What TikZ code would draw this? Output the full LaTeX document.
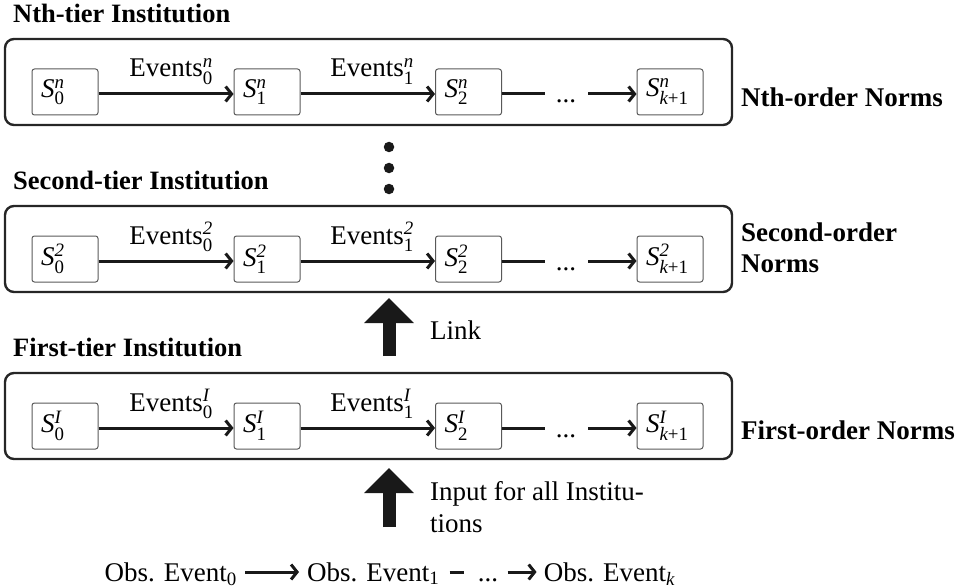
\documentclass[tikz,border=0pt]{standalone}
\usepackage{amsmath}
\usepackage{fontspec}
\setmainfont{Liberation Serif}
\usetikzlibrary{arrows.meta}
\newcommand\St[2]{\textit{S}$^{\textit{#1}}_{\textrm{#2}}$}
\newcommand\Ev[2]{Events$^{\textit{#1}}_{\textrm{#2}}$}
\begin{document}
\begin{tikzpicture}[x=1pt,y=-1pt,
  every node/.style={font=\fontsize{27pt}{32pt}\selectfont, inner sep=0pt},
  title/.style={anchor=base west, font=\fontsize{26.5pt}{32pt}\selectfont\bfseries},
  outerbox/.style={draw=black!85, line width=2.4pt, rounded corners=9pt, minimum width=727pt, minimum height=86pt},
  sbox/.style={draw=black!65, line width=1pt, rounded corners=2.5pt, text width=48pt, inner xsep=9pt, align=left, minimum height=46pt},
  flow/.style={line width=3pt, draw=black!90, -{Straight Barb[length=6pt,width=15pt]}},
  plain/.style={line width=3pt, draw=black!90},
  bigarrow/.style={line width=13pt, draw=black!90, -{Triangle[length=25pt,width=48pt]}},
  dot/.style={circle, fill=black!90, minimum size=10.5pt}]
\useasboundingbox (0,0) rectangle (965,588);

\node[title] (t3) at (13,23) {Nth-tier Institution};
\node[title] (t2) at (13,189) {Second-tier Institution};
\node[title] (t1) at (13,356) {First-tier Institution};

\foreach \T/\r/\u in {39/n/n, 206/b/2, 373/a/I}{
  \node[outerbox] (\r box) at (368.5,{\T+43}) {};
  \node[sbox] (\r0) at (65,{\T+53}) {\St{\u}{0}};
  \node[sbox] (\r1) at (267,{\T+53}) {\St{\u}{1}};
  \node[sbox] (\r2) at (468.5,{\T+53}) {\St{\u}{2}};
  \node[sbox] (\r3) at (670,{\T+53}) {\textit{S}$^{\textit{\u}}_{\textit{k}\textrm{+1}}$};
  \node[anchor=base] (\r e0) at (171,{\T+38}) {\Ev{\u}{0}};
  \node[anchor=base] (\r e1) at (372,{\T+38}) {\Ev{\u}{1}};
  \draw[flow] ([yshift=-2pt]\r0.east) -- ([yshift=-2pt]\r1.west);
  \draw[flow] ([yshift=-2pt]\r1.east) -- ([yshift=-2pt]\r2.west);
  \coordinate (\r d) at (545,{\T+55});
  \draw[plain] ([yshift=-2pt]\r2.east) -- (\r d);
  \node[anchor=base] (\r dots) at (566,{\T+64}) {...};
  \coordinate (\r a) at (588,{\T+55});
  \draw[flow] (\r a) -- ([yshift=-2pt]\r3.west);
}

\node[anchor=west] (nl) at (741,97) {\bfseries Nth-order Norms};
\node[anchor=west, align=left, font=\fontsize{27pt}{31pt}\selectfont\bfseries] (bl) at (741,248) {Second-order\\Norms};
\node[anchor=west] (al) at (741,430) {\bfseries First-order Norms};

\node[dot] (d1) at (389,147) {};
\node[dot] (d2) at (389,168) {};
\node[dot] (d3) at (389,189) {};

\coordinate (lk0) at (389,356);
\coordinate (lk1) at (389,298);
\draw[bigarrow] (lk0) -- (lk1);
\node[anchor=west] (link) at (430,330) {Link};

\coordinate (in0) at (389,527);
\coordinate (in1) at (389,468);
\draw[bigarrow] (in0) -- (in1);
\node[anchor=west, align=left] (inp) at (430,507) {Input for all Institu-\\tions};

\node[anchor=base east] (o0) at (237,581) {Obs. Event$_{\textrm{0}}$};
\node[anchor=base west] (o1) at (307,581) {Obs. Event$_{\textrm{1}}$};
\coordinate (oa0) at ([xshift=8pt,yshift=9pt]o0.base east);
\coordinate (oa1) at ([xshift=-8pt,yshift=9pt]o1.base west);
\draw[flow] (oa0) -- (oa1);
\coordinate (bd0) at ([xshift=10pt,yshift=9pt]o1.base east);
\coordinate (bd1) at ([xshift=24pt,yshift=9pt]o1.base east);
\draw[plain] (bd0) -- (bd1);
\node[anchor=base west] (bdots) at ([xshift=38pt]o1.base east) {...};
\node[anchor=base west] (ok) at ([xshift=104pt]o1.base east) {Obs. Event$_{\textit{k}}$};
\coordinate (ba) at ([xshift=68pt,yshift=9pt]o1.base east);
\coordinate (bb) at ([xshift=-7pt,yshift=9pt]ok.base west);
\draw[flow] (ba) -- (bb);
\end{tikzpicture}
\end{document}
